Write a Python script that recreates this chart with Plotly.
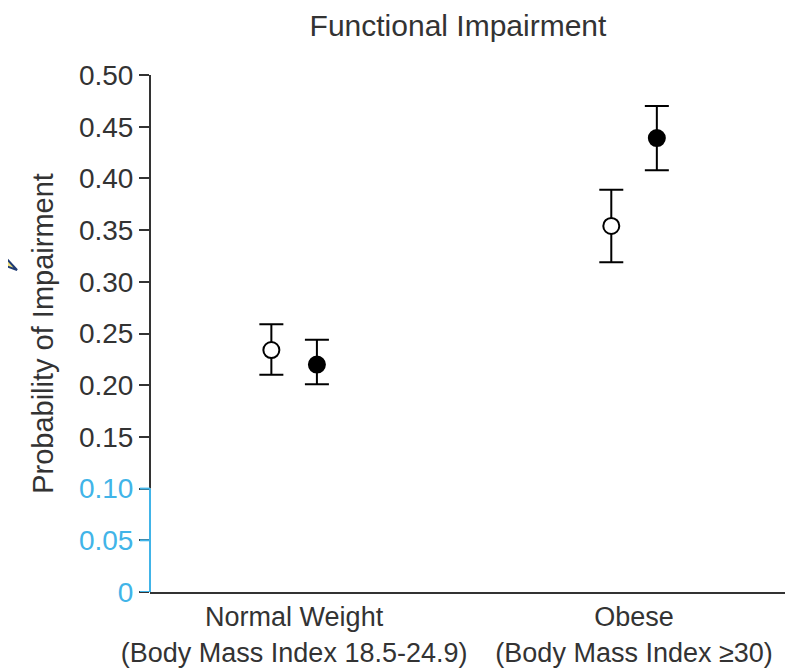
import plotly.graph_objects as go

categories = ["Normal Weight<br>(Body Mass Index 18.5-24.9)", "Obese<br>(Body Mass Index ≥30)"]
open_values = [0.234, 0.354]
open_upper = [0.259, 0.389]
open_lower = [0.210, 0.319]
filled_values = [0.220, 0.439]
filled_upper = [0.244, 0.470]
filled_lower = [0.201, 0.408]
y_ticks = [0, 0.05, 0.10, 0.15, 0.20, 0.25, 0.30, 0.35, 0.40, 0.45, 0.50]

BLUE = "#41b4e8"
TXT = "#333333"
OFFSET = 0.067

def tick_label(v):
    s = "0" if v == 0 else f"{v:.2f}"
    if v <= 0.1001:
        return f'<span style="color:{BLUE}">{s}</span>'
    return s

pos = [i + 1 for i in range(len(categories))]

fig = go.Figure()
for vals, up, lo, sign, fill in [
    (open_values, open_upper, open_lower, -1, "white"),
    (filled_values, filled_upper, filled_lower, 1, "black"),
]:
    fig.add_trace(go.Scatter(
        x=[p + sign * OFFSET for p in pos],
        y=vals,
        mode="markers",
        marker=dict(size=16, color=fill, line=dict(color="black", width=2)),
        error_y=dict(type="data", symmetric=False,
                     array=[u - v for u, v in zip(up, vals)],
                     arrayminus=[v - l for v, l in zip(vals, lo)],
                     color="black", thickness=2, width=12),
        showlegend=False,
    ))

shapes = [
    dict(type="line", xref="paper", yref="y", x0=0, x1=0, y0=0.10, y1=0.50,
         line=dict(color="#333333", width=2)),
    dict(type="line", xref="paper", yref="y", x0=0, x1=0, y0=0, y1=0.10,
         line=dict(color=BLUE, width=2)),
]
for v in y_ticks:
    if v <= 0.1001:
        shapes.append(dict(type="line", xref="paper", yref="y", x0=-0.016, x1=0, y0=v, y1=v,
                           line=dict(color=BLUE, width=2)))
# partial callout arrow at left edge
shapes.append(dict(type="path", xref="paper", yref="paper",
                   path="M -0.245 0.6700 L -0.2094 0.6228 L -0.245 0.6383 Z",
                   fillcolor="#f2e27a", line=dict(color="#1f3b73", width=2)))

fig.update_layout(
    width=789, height=660,
    margin=dict(l=142, r=12, t=67, b=76, autoexpand=False),
    paper_bgcolor="white", plot_bgcolor="white",
    font=dict(family="Liberation Sans, Arial, sans-serif", size=27, color=TXT),
    title=dict(text="Functional Impairment", x=0.485, xref="paper", xanchor="center",
               y=0.974, yref="container", yanchor="middle",
               font=dict(size=30, color=TXT)),
    shapes=shapes,
)
fig.update_xaxes(range=[0.576, 2.444], tickvals=pos, ticktext=categories, automargin=False,
                 showgrid=False, zeroline=False, showline=True, linecolor="#333333",
                 linewidth=2, ticks="", tickfont=dict(size=27, color=TXT))
fig.update_yaxes(range=[0, 0.5], tickvals=y_ticks, ticktext=[tick_label(v) for v in y_ticks],
                 automargin=False,
                 showgrid=False, zeroline=False, showline=False,
                 ticks="outside", ticklen=10, tickwidth=2, tickcolor="#333333",
                 tickfont=dict(size=28, color=TXT),
                 title=dict(text="Probability of Impairment", font=dict(size=29, color=TXT), standoff=16))

fig.write_html("out.html")
